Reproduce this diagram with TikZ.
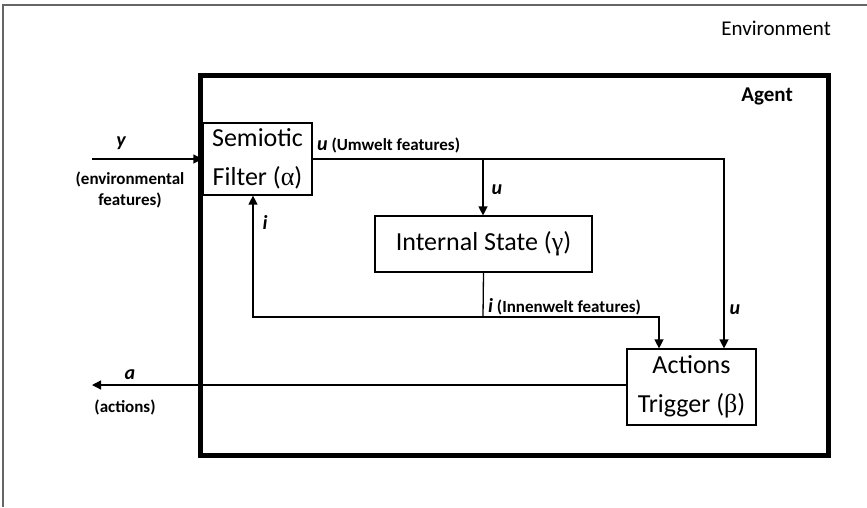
\documentclass[tikz,border=0pt]{standalone}
\usepackage{fontspec}
\setmainfont{Carlito}
\newfontfamily\grk{Liberation Serif}
\usetikzlibrary{arrows.meta}
\begin{document}
\begin{tikzpicture}[x=1pt,y=-1pt,
  box/.style={draw,line width=1.2pt,inner sep=0pt,align=center,font=\fontsize{26}{39}\selectfont},
  conn/.style={line width=1.3pt},
  arr/.style={conn,-{Triangle[length=9pt,width=9pt]}},
  lbl/.style={font=\bfseries\fontsize{17}{20}\selectfont,inner sep=0pt},
  var/.style={font=\bfseries\itshape\fontsize{20}{23}\selectfont,inner sep=0pt}]
\useasboundingbox (0,0) rectangle (867,507);
\fill[white] (0,0) rectangle (867,507);
% environment
\draw[line width=1.5pt,gray!80!black] (3,507) -- (3,5) -- (867,5);
\node[font=\fontsize{21}{25}\selectfont,anchor=east,inner sep=0pt] (envlbl) at (831,28) {Environment};
% agent
\node[draw,line width=5pt,minimum width=628pt,minimum height=380pt,inner sep=0pt] (agent) at (514,265) {};
\node[font=\bfseries\fontsize{21}{25}\selectfont,anchor=east,inner sep=0pt] (agentlbl) at (793,96) {Agent};
% blocks
\node[box,minimum width=109pt,minimum height=72pt] (sf) at (257.5,159) {Semiotic\\Filter ({\grk α})};
\node[box,minimum width=217pt,minimum height=56pt] (is) at (483.5,244) {Internal State ({\grk γ})};
\node[box,minimum width=129pt,minimum height=76pt] (at) at (691.5,387) {Actions\\Trigger ({\grk β})};
% coordinates
\coordinate (yin) at (92,159);
\coordinate (aout) at (92,385);
\coordinate (ucorner) at (724,159);
\coordinate (usplit) at (483,159);
\coordinate (ijoin) at (483,317);
\coordinate (ileft) at (253,317);
\coordinate (iright) at (659,317);
% connectors
\draw[arr] (yin) -- (sf.west);
\draw[arr] (sf.east) -- (ucorner) -- (ucorner |- at.north);
\draw[arr] (usplit) -- (usplit |- is.north);
\draw[conn] (is.south) -- (ijoin);
\draw[arr] (ijoin) -- (ileft) -- (ileft |- sf.south);
\draw[arr] (ijoin) -- (iright) -- (iright |- at.north);
\draw[arr] (at.west |- aout) -- (aout);
% labels
\node[var] (ylbl) at (121,143) {y};
\node[lbl,align=center] (ydesc) at (130,190) {(environmental\\[1pt]features)};
\node[lbl,anchor=west] (ulbl) at (317,145) {\textit{\fontsize{20}{23}\selectfont u} (Umwelt features)};
\node[var] (u2) at (497,190) {u};
\node[var] (i1) at (265,222) {i};
\node[lbl,anchor=west] (ilbl) at (488,307) {\textit{\fontsize{20}{23}\selectfont i} (Innenwelt features)};
\node[var] (u3) at (735,310) {u};
\node[var] (albl) at (130,375) {a};
\node[lbl] (adesc) at (125,407) {(actions)};
\end{tikzpicture}
\end{document}
